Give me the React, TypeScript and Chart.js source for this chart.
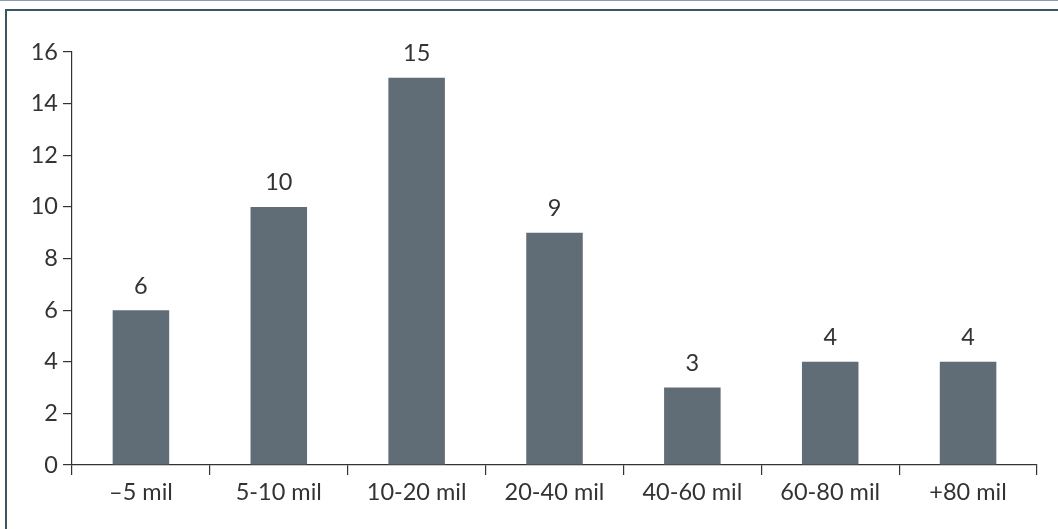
import React, { useEffect, useRef } from "react";
import { Chart, registerables } from "chart.js";

Chart.register(...registerables);

const categories = ["–5 mil", "5-10 mil", "10-20 mil", "20-40 mil", "40-60 mil", "60-80 mil", "+80 mil"];
const values = [6, 10, 15, 9, 3, 4, 4];
const yTicks = [0, 2, 4, 6, 8, 10, 12, 14, 16];

const FONT = "Lato, 'Open Sans', sans-serif";
const FONT_SIZE = 23.5;
const TEXT = "#333333";
const BAR = "#606c76";

const labelPlugin = {
  id: "barLabels",
  afterDatasetsDraw(chart: any) {
    const ctx = chart.ctx;
    const meta = chart.getDatasetMeta(0);
    ctx.save();
    ctx.font = `${FONT_SIZE}px ${FONT}`;
    ctx.fillStyle = TEXT;
    ctx.textAlign = "center";
    ctx.textBaseline = "middle";
    meta.data.forEach((el: any, i: number) => {
      ctx.fillText(String(values[i]), el.x, el.y - 24);
    });
    ctx.restore();
  },
};

export default function App() {
  const ref = useRef<HTMLCanvasElement | null>(null);
  useEffect(() => {
    if (!ref.current) return;
    const chart = new Chart(ref.current, {
      type: "bar",
      data: {
        labels: categories,
        datasets: [
          {
            data: values,
            backgroundColor: BAR,
            borderWidth: 0,
            categoryPercentage: 1,
            barPercentage: 0.41,
          },
        ],
      },
      options: {
        animation: false,
        responsive: false,
        maintainAspectRatio: false,
        layout: { padding: { top: 52, right: 21, left: 0, bottom: 0 } },
        plugins: { legend: { display: false }, tooltip: { enabled: false } },
        scales: {
          x: {
            grid: {
              offset: true,
              drawOnChartArea: false,
              drawTicks: true,
              tickLength: 10,
              color: "#333333",
              lineWidth: 1.2,
            },
            border: { display: true, color: "#333333", width: 1.2 },
            ticks: {
              color: TEXT,
              font: { family: FONT, size: FONT_SIZE },
              padding: 3,
              maxRotation: 0,
            },
            afterFit(scale: any) {
              scale.height = 64;
            },
          },
          y: {
            min: 0,
            max: 16,
            afterBuildTicks(scale: any) {
              scale.ticks = yTicks.map((v) => ({ value: v }));
            },
            grid: {
              drawOnChartArea: false,
              drawTicks: true,
              tickLength: 9,
              color: "#333333",
              lineWidth: 1.2,
            },
            border: { display: true, color: "#333333", width: 1.2 },
            ticks: {
              color: TEXT,
              font: { family: FONT, size: FONT_SIZE },
              padding: 5,
            },
            afterFit(scale: any) {
              scale.width = 72;
            },
          },
        },
      },
      plugins: [labelPlugin],
    });
    return () => chart.destroy();
  }, []);

  return (
    <div style={{ position: "fixed", left: 0, top: 0, width: 1058, height: 529, background: "#fff", overflow: "hidden" }}>
      <div style={{ position: "absolute", left: 0, top: 0, width: 1058, height: 1, background: "#8c9ea3" }} />
      <div style={{ position: "absolute", left: 5, top: 9, width: 1053, height: 2, background: "#3a5560" }} />
      <div style={{ position: "absolute", left: 5, top: 9, width: 2, height: 520, background: "#3a5560" }} />
      <canvas ref={ref} width={1058} height={529} style={{ position: "absolute", left: 0, top: 0, width: 1058, height: 529 }} />
    </div>
  );
}
